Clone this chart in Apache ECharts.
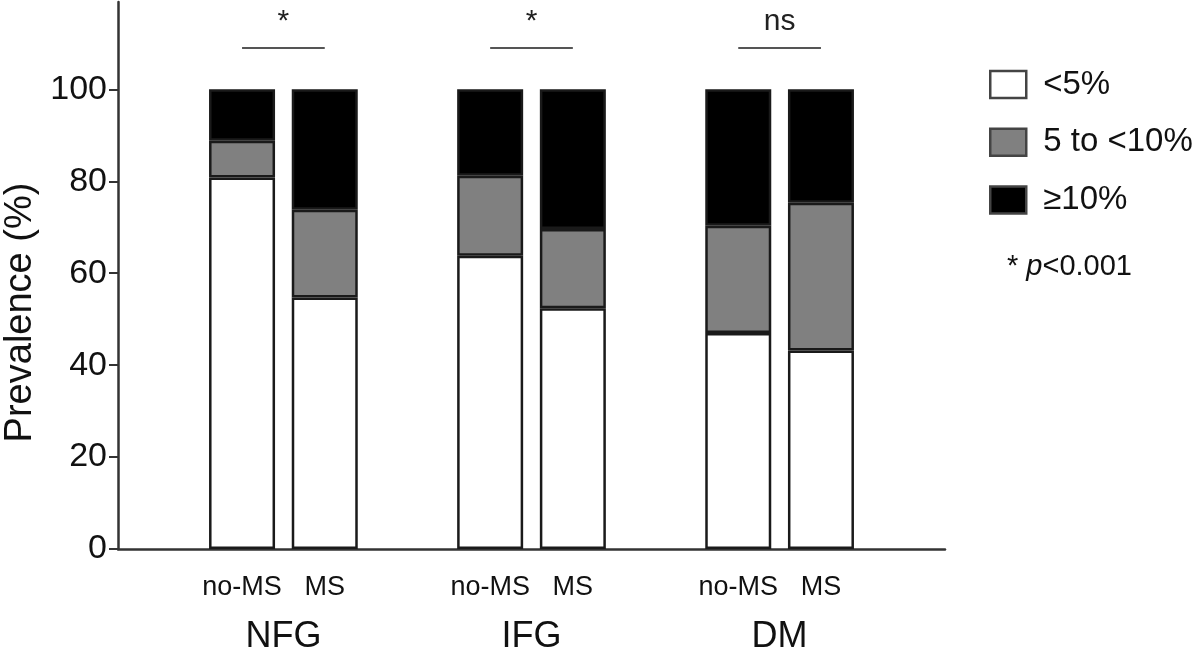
<!DOCTYPE html>
<html>
<head>
<meta charset="utf-8">
<script src="https://cdn.jsdelivr.net/npm/echarts@6/dist/echarts.min.js"></script>
<style>html,body{margin:0;padding:0;background:#fff}#c{width:1200px;height:655px}</style>
</head>
<body>
<div id="c"></div>
<script>
// Slots along the x axis (empty strings are spacer slots)
const slotLabels = ['', 'no-MS', 'MS', '', 'no-MS', 'MS', '', 'no-MS', 'MS', ''];
// Group labels sit on slot boundaries (0..10)
const groupLabels = ['', '', 'NFG', '', '', 'IFG', '', '', 'DM', '', ''];
const seriesNames = ['<5%', '5 to <10%', '\u226510%'];
// Stacked segment values (%), null for spacer slots
const below5   = [null, 80.8, 54.7, null, 63.8, 52.4, null, 47.0, 43.2, null];
const from5to10 = [null, 8.0, 19.1, null, 17.4, 17.2, null, 23.3, 32.1, null];
const atLeast10 = [null, 11.2, 26.2, null, 18.8, 30.4, null, 29.7, 24.7, null];
const yTicks = [0, 20, 40, 60, 80, 100];
// Significance brackets: [fromSlot, toSlot, y, text]
const sigBrackets = [[1, 2, 109, '*'], [4, 5, 109, '*'], [7, 8, 109, 'ns']];
const footnote = ['*', 'p', '<0.001'];

const FONT = '"Liberation Sans", Arial, Helvetica, sans-serif';
const colors = ['#ffffff', '#808080', '#000000'];
const values = [below5, from5to10, atLeast10];

const chart = echarts.init(document.getElementById('c'), null, {renderer: 'canvas'});

const series = values.map((vals, i) => {
  const s = {
    name: seriesNames[i],
    type: 'bar',
    stack: 'total',
    data: vals,
    barWidth: 66,
    itemStyle: {color: colors[i], borderColor: '#1a1a1a', borderWidth: 2.5},
    emphasis: {disabled: true}
  };
  if (i === 0) {
    s.markLine = {
      silent: true,
      symbol: ['none', 'none'],
      lineStyle: {color: '#555', width: 2, type: 'solid'},
      label: {
        show: true,
        position: 'insideMiddleTop',
        distance: 11,
        formatter: p => p.name,
        color: '#222',
        fontFamily: FONT,
        fontSize: 30
      },
      data: sigBrackets.map(b => [
        {coord: [b[0], b[2]], name: b[3]},
        {coord: [b[1], b[2]]}
      ])
    };
  }
  return s;
});

chart.setOption({
  animation: false,
  backgroundColor: '#fff',
  grid: {left: 118, right: 255, top: 2, bottom: 106, containLabel: false, outerBoundsMode: 'none'},
  legend: {
    orient: 'vertical',
    left: 984,
    top: 63,
    padding: 5,
    itemWidth: 36,
    itemHeight: 27,
    itemGap: 24.7,
    icon: 'rect',
    selectedMode: false,
    data: seriesNames,
    itemStyle: {borderColor: '#444', borderWidth: 2.5},
    textStyle: {fontFamily: FONT, fontSize: 33, color: '#111', padding: [0, 0, 0, 12]}
  },
  title: {
    left: 1002,
    top: 247,
    padding: 5,
    text: '{a|' + footnote[0] + ' }{b|' + footnote[1] + '}{a|' + footnote[2] + '}',
    textStyle: {
      fontWeight: 'normal',
      rich: {
        a: {fontFamily: FONT, fontSize: 29, color: '#111', fontWeight: 'normal'},
        b: {fontFamily: FONT, fontSize: 29, color: '#111', fontStyle: 'italic', fontWeight: 'normal'}
      }
    }
  },
  xAxis: [
    {
      type: 'category',
      data: slotLabels,
      axisLine: {lineStyle: {color: '#333', width: 2.5}},
      axisTick: {show: false},
      axisLabel: {interval: 0, margin: 25, fontFamily: FONT, fontSize: 27, color: '#111'},
      splitLine: {show: false}
    },
    {
      type: 'category',
      data: groupLabels,
      boundaryGap: false,
      position: 'bottom',
      axisLine: {show: false},
      axisTick: {show: false},
      axisLabel: {interval: 0, margin: 70, fontFamily: FONT, fontSize: 36, color: '#111'},
      splitLine: {show: false}
    }
  ],
  yAxis: {
    type: 'value',
    min: 0,
    max: 119,
    name: 'Prevalence (%)',
    nameLocation: 'middle',
    nameGap: 77,
    nameTextStyle: {fontFamily: FONT, fontSize: 38, color: '#111', padding: [0, 74, 0, 0]},
    axisLine: {show: true, lineStyle: {color: '#333', width: 2.5}},
    axisTick: {show: true, length: 9, customValues: yTicks, lineStyle: {color: '#333', width: 2}},
    axisLabel: {margin: 11, customValues: yTicks, fontFamily: FONT, fontSize: 34, color: '#111'},
    splitLine: {show: false}
  },
  series: series
});
</script>
</body>
</html>
